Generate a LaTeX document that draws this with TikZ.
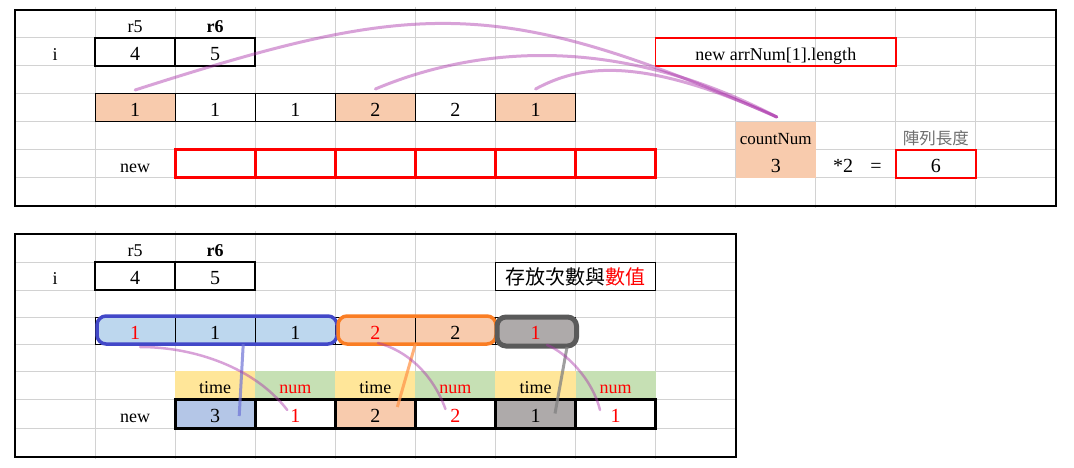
\documentclass[tikz,border=0pt]{standalone}
\usepackage{fontspec}
\setmainfont{Liberation Serif}
\newfontfamily\cjk{Noto Sans CJK TC}
\usetikzlibrary{calc}
\definecolor{gridc}{RGB}{210,210,210}
\definecolor{peach}{RGB}{248,203,173}
\definecolor{lblue}{RGB}{189,215,238}
\definecolor{nblue}{RGB}{180,198,231}
\definecolor{ylw}{RGB}{255,230,153}
\definecolor{grn}{RGB}{198,224,180}
\definecolor{gfill}{RGB}{174,170,170}
\definecolor{bstroke}{RGB}{66,72,200}
\definecolor{ostroke}{RGB}{250,125,35}
\definecolor{gstroke}{RGB}{90,90,90}
\definecolor{plumc}{RGB}{170,50,170}
\definecolor{cjkgray}{RGB}{110,110,110}
\definecolor{bline}{RGB}{110,115,215}
\definecolor{oline}{RGB}{255,150,75}
\definecolor{gline}{RGB}{128,128,128}
\definecolor{pure red}{RGB}{255,0,0}
\begin{document}
\begin{tikzpicture}[x=1pt,y=-1pt,
  cell/.style={minimum width=80.08pt, minimum height=28pt, inner sep=0pt, outer sep=0pt,
    text height=17pt, text depth=0pt, font=\fontsize{18}{20}\selectfont},
  dig/.style={font=\fontsize{20}{22}\selectfont},
  lbl/.style={cell},
  thinbox/.style={cell, draw=black, line width=1pt},
  thickbox/.style={cell, draw=black, line width=2.2pt},
  redbox/.style={cell, draw=pure red, line width=3pt},
  redthin/.style={cell, draw=pure red, line width=1.4pt},
  newbox/.style={cell, draw=black, line width=3pt, minimum height=29pt},
  panel/.style={draw=black, line width=2.5pt},
  gridline/.style={draw=gridc, line width=1pt},
  plumline/.style={draw=plumc, line width=3pt, draw opacity=0.45, line cap=round},
  blueconn/.style={draw=bline, line width=3pt, draw opacity=0.7},
  orangeconn/.style={draw=oline, line width=3pt, draw opacity=0.75},
  grayconn/.style={draw=gline, line width=3pt, draw opacity=0.75},
  grp/.style={inner sep=0pt, outer sep=0pt, minimum height=28pt},
  freetxt/.style={inner sep=0pt, text height=17pt, text depth=0pt, font=\fontsize{20}{22}\selectfont},
]
\useasboundingbox[fill=white] (0,0) rectangle (1074,468);

% ---------------- grid lines ----------------
\foreach \j in {0,...,11} \draw[gridline] ({95.08+80.08*\j},7) -- ({95.08+80.08*\j},208);
\foreach \r in {38,66,94,122,150,178} \draw[gridline] (15,\r) -- (1056,\r);
\foreach \j in {0,...,7} \draw[gridline] ({95.08+80.08*\j},231) -- ({95.08+80.08*\j},459);
\foreach \r in {262,290,317,344,371,399,428} \draw[gridline] (15,\r) -- (736,\r);

% ================= TOP PANEL =================
\node[lbl] (tr5) at (135.12,24) {r5};
\node[lbl, font=\fontsize{18}{20}\selectfont\bfseries] (tr6) at (215.2,24) {r6};
\node[lbl] (ti) at (55.04,52) {i};
\node[thickbox, dig] (t4) at (135.12,52) {4};
\node[thickbox, dig] (t5) at (215.2,52) {5};
\node[redthin, minimum width=240.24pt] (tlen) at (775.76,52) {new arrNum[1].length};

\node[thinbox, dig, fill=peach] (a1) at (135.12,108) {1};
\node[thinbox, dig] (a2) at (215.20,108) {1};
\node[thinbox, dig] (a3) at (295.28,108) {1};
\node[thinbox, dig, fill=peach] (a4) at (375.36,108) {2};
\node[thinbox, dig] (a5) at (455.44,108) {2};
\node[thinbox, dig, fill=peach] (a6) at (535.52,108) {1};

\node[cell, fill=peach, minimum height=56pt] (cn) at (775.76,150) {};
\node[lbl, font=\fontsize{17}{20}\selectfont] (cntxt) at (775.76,136) {countNum};
\node[lbl, dig] (cnval) at (775.76,164) {3};
\node[freetxt] (times2) at (843,164) {*2};
\node[freetxt] (eq) at (876,164) {=};
\node[lbl, text=cjkgray, font=\fontsize{16.5}{20}\selectfont\cjk] (arrlen) at (935.92,136) {陣列長度};
\node[redthin, dig] (six) at (935.92,164) {6};

\node[lbl] (tnew) at (135.12,164) {new};
\node[redbox] (r1) at (215.20,164) {};
\node[redbox] (r2) at (295.28,164) {};
\node[redbox] (r3) at (375.36,164) {};
\node[redbox] (r4) at (455.44,164) {};
\node[redbox] (r5) at (535.52,164) {};
\node[redbox] (r6) at (615.60,164) {};

\draw[panel] (15,10) rectangle (1056,206);

\draw[plumline] ([yshift=4]a1.north) .. controls (416,0) and (497,-6) .. ([xshift=1,yshift=5]cn.north);
\draw[plumline] ([yshift=5]a4.north) .. controls (480,45) and (620,35) .. ([xshift=1,yshift=5]cn.north);
\draw[plumline] ([yshift=5]a6.north) .. controls (580,65) and (640,55) .. ([xshift=1,yshift=5]cn.north);

% ================= BOTTOM PANEL =================
\node[lbl] (br5) at (135.12,248) {r5};
\node[lbl, font=\fontsize{18}{20}\selectfont\bfseries] (br6) at (215.2,248) {r6};
\node[lbl] (bi) at (55.04,276) {i};
\node[thickbox, dig] (b4box) at (135.12,276) {4};
\node[thickbox, dig] (b5box) at (215.2,276) {5};
\node[cell, draw=black, line width=1pt, minimum width=160.16pt, font=\fontsize{20}{22}\selectfont\cjk] (store) at (575.56,276) {存放次數與\textcolor{pure red}{數值}};

% group fills
\node[grp, fill=lblue, rounded corners=9pt, minimum width=240pt] (gA) at (217,330) {};
\node[grp, fill=peach, rounded corners=9pt, minimum width=158pt] (gB) at (417,330) {};
\node[grp, fill=gfill, rounded corners=9pt, minimum width=79.5pt, minimum height=29pt] (gC) at (536.75,331.5) {};

\node[thinbox, dig, minimum height=27pt, text=pure red] (b1) at (135.12,330.5) {1};
\node[thinbox, dig, minimum height=27pt] (b2) at (215.20,330.5) {1};
\node[thinbox, dig, minimum height=27pt] (b3) at (295.28,330.5) {1};
\node[thinbox, dig, minimum height=27pt, text=pure red] (b4) at (375.36,330.5) {2};
\node[thinbox, dig, minimum height=27pt] (b5) at (455.44,330.5) {2};
\node[thinbox, dig, minimum height=27pt, text=pure red] (b6) at (535.52,330.5) {1};

\draw[draw=bstroke, line width=3.5pt, rounded corners=9pt] (gA.north west) rectangle (gA.south east);
\draw[draw=ostroke, line width=3.5pt, rounded corners=9pt] (gB.north west) rectangle (gB.south east);
\draw[draw=gstroke, line width=5pt, rounded corners=9pt] (gC.north west) rectangle (gC.south east);

% label row
\node[cell, fill=ylw] (l1) at (215.20,385) {time};
\node[cell, fill=grn, text=pure red] (l2) at (295.28,385) {num};
\node[cell, fill=ylw] (l3) at (375.36,385) {time};
\node[cell, fill=grn, text=pure red] (l4) at (455.44,385) {num};
\node[cell, fill=ylw] (l5) at (535.52,385) {time};
\node[cell, fill=grn, text=pure red] (l6) at (615.60,385) {num};

% new row
\node[lbl] (bnew) at (135.12,413.5) {new};
\node[newbox, dig, fill=nblue] (n1) at (215.20,413.5) {3};
\node[newbox, dig, text=pure red] (n2) at (295.28,413.5) {1};
\node[newbox, dig, fill=peach] (n3) at (375.36,413.5) {2};
\node[newbox, dig, text=pure red] (n4) at (455.44,413.5) {2};
\node[newbox, dig, fill=gfill] (n5) at (535.52,413.5) {1};
\node[newbox, dig, text=pure red] (n6) at (615.60,413.5) {1};

\draw[panel] (15,234) rectangle (736,457);

% connectors
\draw[blueconn] ([xshift=-12]b2.south east) -- ([xshift=24,yshift=-2.5]n1.center);
\draw[orangeconn] (b4.south east) -- ([xshift=22,yshift=6.5]n3.center);
\draw[grayconn] ([xshift=31.5,yshift=-3]b6.south) -- ([xshift=19.5]n5.center);

\draw[plumline, line width=2.5pt] ([xshift=5,yshift=-3]b1.south) .. controls (195,347) and (255,368) .. ([xshift=-8,yshift=3.5]n2.center);
\draw[plumline, line width=2.5pt] ([xshift=2.6,yshift=1]b4.south) .. controls (405,350) and (432,372) .. ([xshift=-10,yshift=4.5]n4.center);
\draw[plumline, line width=2.5pt] ([xshift=11.5,yshift=-1]b6.south) .. controls (565,352) and (592,378) .. ([xshift=-15.6,yshift=3.5]n6.center);
\end{tikzpicture}
\end{document}
